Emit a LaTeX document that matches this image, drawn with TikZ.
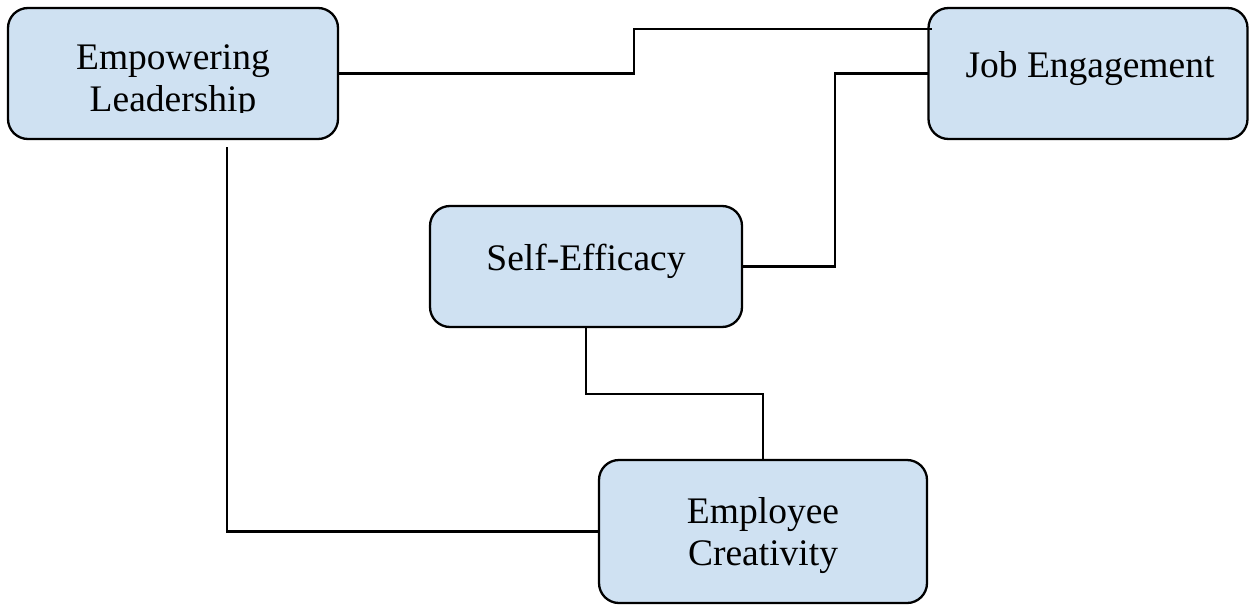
\documentclass[tikz,border=0pt]{standalone}
\usepackage{fontspec}
\setmainfont{Liberation Serif}
\begin{document}
\begin{tikzpicture}[x=1pt,y=-1pt,
  box/.style={draw=black, line width=2.3pt, rounded corners=20pt, fill=boxfill,
              inner sep=0pt, outer sep=0pt},
  lbl/.style={inner sep=0pt, anchor=base, font=\fontsize{37.5}{42.5}\selectfont},
  link/.style={draw=black, line width=2.1pt}]
\definecolor{boxfill}{RGB}{207,225,242}
\useasboundingbox (0,0) rectangle (1249,605);

% boxes
\node[box, minimum width=330, minimum height=131] (el) at (173,73.5) {};
\node[box, minimum width=319, minimum height=131] (je) at (1088,73.5) {};
\node[box, minimum width=312, minimum height=121] (se) at (586,266.5) {};
\node[box, minimum width=328, minimum height=143] (ec) at (763,531.5) {};

% labels
\node[lbl] (elt) at (173,69) {Empowering};
\begin{scope}
  \clip (8,0) rectangle (338,112.5);
  \node[lbl] (elb) at (173,111) {Leadership};
\end{scope}
\node[lbl] (jet) at (1090,77) {Job Engagement};
\node[lbl] (set) at (586,270) {Self-Efficacy};
\node[lbl] (ect) at (763,523) {Employee};
\node[lbl] (ecb) at (763,565) {Creativity};

% connectors
\coordinate (jein) at (932,29);
\coordinate (elbelow) at (227,147);
\draw[link] (el.east) -| (634,29) -- (jein);
\draw[link] (je.west) -- (835,73.5) |- (se.east);
\draw[link] (se.south) -- (586,394) -| (ec.north);
\draw[link] (elbelow) |- (ec.west);
\end{tikzpicture}
\end{document}
